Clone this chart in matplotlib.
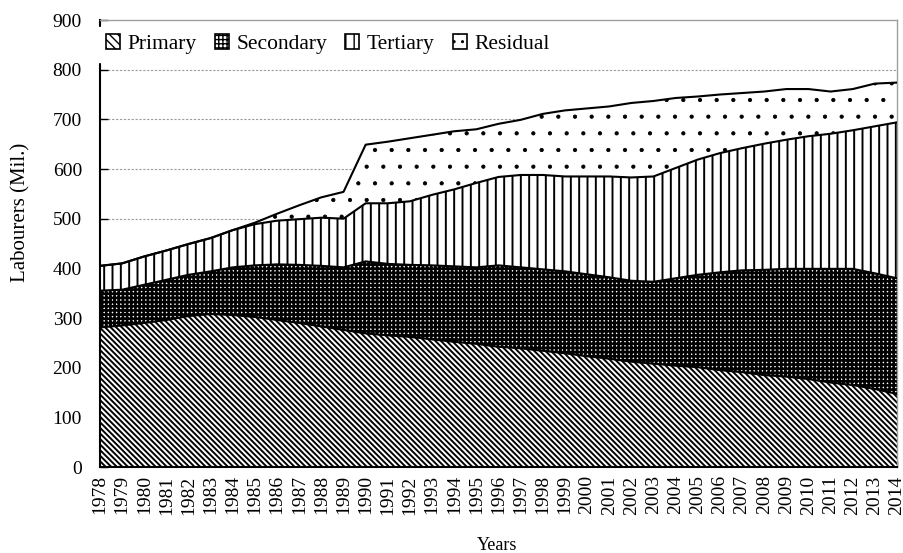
import numpy as np
import matplotlib
matplotlib.use("Agg")
import matplotlib.pyplot as plt
from matplotlib.patches import Patch

# data (million labourers)
years = list(range(1978, 2015))
primary = [281, 285, 290, 296, 304, 308, 306, 302, 296, 290, 283, 276, 269,
           265, 262, 257, 252, 248, 242, 239, 234, 229, 223, 218, 212, 208,
           204, 201, 195, 191, 185, 182, 177, 170, 165, 157, 147]
secondary = [74, 72, 77, 81, 83, 86, 96, 104, 112, 117, 122, 126, 145,
             144, 145, 149, 152, 154, 164, 163, 164, 165, 165, 164, 163, 165,
             176, 186, 197, 205, 212, 217, 222, 229, 234, 233, 233]
tertiary = [50, 53, 57, 59, 62, 67, 75, 83, 88, 92, 97, 98, 117,
            122, 128, 142, 155, 170, 178, 186, 190, 191, 197, 203, 208, 212,
            222, 232, 240, 246, 254, 260, 267, 272, 279, 296, 314]
residual = [0, 0, 0, 0, 0, 0, 0, 3, 14, 28, 41, 54, 118,
            124, 127, 121, 117, 108, 107, 111, 123, 133, 137, 141, 150, 152,
            141, 127, 118, 111, 105, 102, 95, 85, 83, 86, 80]
labels = ["Primary", "Secondary", "Tertiary", "Residual"]

plt.rcParams['font.family'] = ['Liberation Serif', 'DejaVu Serif']

x = np.array(years)
layers = [np.array(primary), np.array(secondary), np.array(tertiary), np.array(residual)]
tops = np.cumsum(layers, axis=0)
bottoms = np.vstack([np.zeros(len(x)), tops[:-1]])

fig = plt.figure(figsize=(9.04, 5.53), dpi=100)
ax = fig.add_axes([0.1106, 0.1555, 0.8817, 0.8083])

hatches = ['\\' * 6, '++++', '||', '.']
leg_hatches = ['\\\\\\\\', '++++', '||', '..']
hatch_lw = [1.4, 1.9, 1.4, 0.6]

handles = []
for i in range(4):
    with plt.rc_context({'hatch.linewidth': hatch_lw[i]}):
        coll = ax.fill_between(x, bottoms[i], tops[i], facecolor='white',
                               edgecolor='black', hatch=hatches[i],
                               linewidth=0, zorder=2)
        if hasattr(coll, 'set_hatch_linewidth'):
            coll.set_hatch_linewidth(hatch_lw[i])
        p = Patch(facecolor='white', edgecolor='black', hatch=leg_hatches[i],
                  linewidth=1.2, label=labels[i])
        if hasattr(p, 'set_hatch_linewidth'):
            p.set_hatch_linewidth(min(hatch_lw[i], 1.2))
        handles.append(p)
    ax.plot(x, tops[i], color='black', lw=1.5, zorder=3)

ax.set_xlim(1978, 2014)
ax.set_ylim(0, 900)
ax.set_yticks(range(0, 901, 100))
ax.set_xticks(years)
ax.set_xticklabels([str(y) for y in years], rotation=90, fontsize=14)
ax.tick_params(axis='y', labelsize=14, direction='in', length=6, width=1, pad=13)
ax.tick_params(axis='x', direction='in', length=4, width=1, pad=6)

for v in range(100, 900, 100):
    ax.axhline(v, color='#9a9a9a', lw=0.8, ls=(0, (2, 1.5)), zorder=1)

for s in ['left', 'bottom']:
    ax.spines[s].set_color('black')
    ax.spines[s].set_linewidth(1.5)
for s in ['top', 'right']:
    ax.spines[s].set_color('#a0a0a0')
    ax.spines[s].set_linewidth(1.0)

ax.set_ylabel('Labourers (Mil.)', fontsize=15, va='center')
ax.yaxis.set_label_coords(-0.099, 0.57)
ax.set_xlabel('Years', fontsize=13)
ax.xaxis.set_label_coords(0.498, -0.157)

leg = ax.legend(handles=handles, ncol=4, loc='upper left',
                bbox_to_anchor=(-0.002, 0.985), fontsize=15.5,
                frameon=True, fancybox=False, borderaxespad=0,
                handlelength=0.65, handleheight=0.65, handletextpad=0.35,
                columnspacing=0.85, borderpad=0.35)
leg.get_frame().set_facecolor('white')
leg.get_frame().set_edgecolor('white')
leg.get_frame().set_alpha(1)
leg.set_zorder(5)

fig.savefig('out.png', dpi=100)
